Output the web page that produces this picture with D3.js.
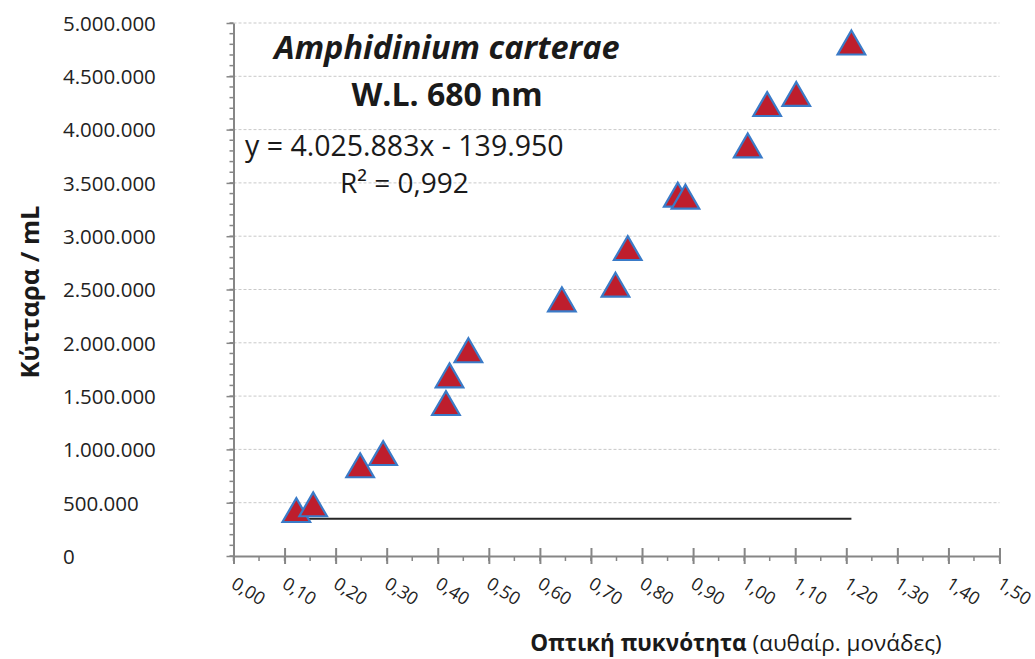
<!DOCTYPE html>
<html><head><meta charset="utf-8">
<script src="https://cdn.jsdelivr.net/npm/d3@7"></script>
<style>
html,body{margin:0;padding:0;background:#fff;}
svg{display:block;font-family:"Open Sans",sans-serif;}
</style></head>
<body><svg id="c" width="1035" height="659"></svg>
<script>
const opticalDensity = [0.123,0.156,0.248,0.293,0.416,0.423,0.460,0.643,0.748,0.772,0.870,0.885,1.007,1.045,1.102,1.210];
const cellsPerMl = [431000,485000,851000,966000,1435000,1695000,1930000,2408000,2545000,2889000,3389000,3371000,3851000,4240000,4334000,4817000];
const trendX = [0.123,1.210];
const trendY = [350000,350000];
const xTicks = [0,0.1,0.2,0.3,0.4,0.5,0.6,0.7,0.8,0.9,1.0,1.1,1.2,1.3,1.4,1.5];
const yTicks = [0,500000,1000000,1500000,2000000,2500000,3000000,3500000,4000000,4500000,5000000];
const titleLines = ["Amphidinium carterae","W.L. 680 nm"];
const equationText = "y = 4.025.883x - 139.950";
const r2Text = "R² = 0,992";
const yTitle = "Κύτταρα / mL";
const xTitleBold = "Οπτική πυκνότητα";
const xTitleRegular = " (αυθαίρ. μονάδες)";

const loc = d3.formatLocale({decimal:",",thousands:".",grouping:[3],currency:["","€"]});
const fy = loc.format(",.0f");
const fx = loc.format(".2f");

const svg = d3.select("#c");
const x = d3.scaleLinear().domain([0,1.5]).range([233.5,999.5]);
const y = d3.scaleLinear().domain([0,5000000]).range([556,23]);
const axisColor = "#868686";

// gridlines
svg.append("g").selectAll("line").data(yTicks.filter(d=>d>0)).join("line")
  .attr("x1",x(0)).attr("x2",x(1.5)).attr("y1",d=>y(d)).attr("y2",d=>y(d))
  .attr("stroke","#c9c9c9").attr("stroke-width",1).attr("stroke-dasharray","3,2");

// y axis minor ticks
const yMinor = d3.range(0,5000001,100000);
svg.append("g").selectAll("line").data(yMinor).join("line")
  .attr("x1",x(0)-4).attr("x2",x(0)).attr("y1",d=>y(d)).attr("y2",d=>y(d))
  .attr("stroke",axisColor).attr("stroke-width",1.5);
// x axis minor ticks
const xMinor = d3.range(0,31).map(i=>i*0.05);
svg.append("g").selectAll("line").data(xMinor).join("line")
  .attr("x1",d=>x(d)).attr("x2",d=>x(d)).attr("y1",y(0)).attr("y2",y(0)+5)
  .attr("stroke",axisColor).attr("stroke-width",1.5);

// y axis
const gy = svg.append("g").attr("transform",`translate(${x(0)},0)`)
  .call(d3.axisLeft(y).tickValues(yTicks).tickFormat(fy).tickSize(7).tickSizeOuter(0));
gy.select(".domain").attr("stroke",axisColor).attr("stroke-width",2);
gy.selectAll(".tick line").attr("stroke",axisColor).attr("stroke-width",1.5);
gy.selectAll(".tick text").attr("x",63-x(0)).attr("text-anchor","start")
  .attr("font-family","Open Sans").attr("font-size",20.5).attr("fill","#222").attr("dy","0.36em");

// x axis
const gx = svg.append("g").attr("transform",`translate(0,${y(0)})`)
  .call(d3.axisBottom(x).tickValues(xTicks).tickFormat(fx).tickSize(8).tickSizeOuter(0));
gx.select(".domain").attr("stroke",axisColor).attr("stroke-width",2);
gx.selectAll(".tick line").attr("stroke",axisColor).attr("stroke-width",2).attr("y1",-8);
gx.selectAll(".tick text").attr("x",0).attr("y",0).attr("dy",0)
  .attr("text-anchor","start").attr("font-family","Open Sans").attr("font-size",18)
  .attr("fill","#222").attr("transform","translate(-4,31) rotate(32)");

// trend line
svg.append("line").attr("x1",x(trendX[0])).attr("x2",x(trendX[1]))
  .attr("y1",y(trendY[0])).attr("y2",y(trendY[1]))
  .attr("stroke","#262626").attr("stroke-width",2);

// markers
const tri = d3.symbol().type(d3.symbolTriangle).size(330);
svg.append("g").selectAll("path").data(opticalDensity.map((d,i)=>[d,cellsPerMl[i]])).join("path")
  .attr("d",tri).attr("transform",d=>`translate(${x(d[0])},${y(d[1])+4})`)
  .attr("fill","#be1e2d").attr("stroke","#3a7bc8").attr("stroke-width",2.2).attr("stroke-linejoin","miter");

// titles
svg.append("text").attr("x",447).attr("y",59).attr("text-anchor","middle")
  .attr("font-weight","bold").attr("font-style","italic").attr("font-size",32.5).attr("fill","#1a1a1a")
  .text(titleLines[0]);
svg.append("text").attr("x",447).attr("y",106).attr("text-anchor","middle")
  .attr("font-weight","bold").attr("font-size",32).attr("fill","#1a1a1a").text(titleLines[1]);
svg.append("text").attr("x",245).attr("y",156).attr("text-anchor","start")
  .attr("font-size",28.5).attr("fill","#1a1a1a").text(equationText);
svg.append("text").attr("x",340).attr("y",193).attr("text-anchor","start")
  .attr("font-size",28).attr("fill","#1a1a1a").text(r2Text);

// axis titles
svg.append("text").attr("transform","translate(39,292) rotate(-90)").attr("text-anchor","middle")
  .attr("font-weight","bold").attr("font-size",25.5).attr("fill","#1a1a1a").text(yTitle);
const xt = svg.append("text").attr("x",736).attr("y",651).attr("text-anchor","middle")
  .attr("font-size",22.5).attr("fill","#1a1a1a");
xt.append("tspan").attr("font-weight","bold").text(xTitleBold);
xt.append("tspan").text(xTitleRegular);
</script></body></html>
